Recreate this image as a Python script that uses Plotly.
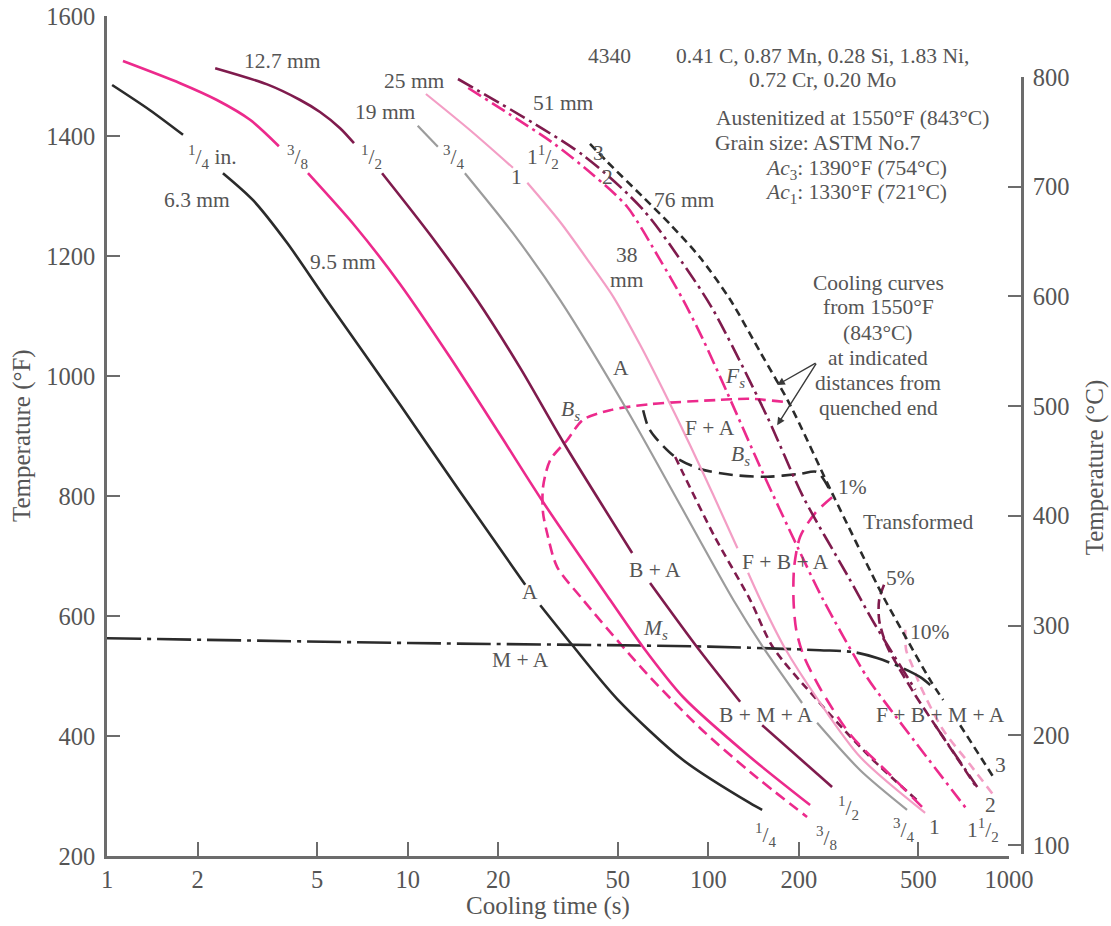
import numpy as np
import plotly.graph_objects as go

FONT = "Liberation Serif"
TEXT = "#555555"
AXIS = "#6c6c6c"
BLACK = "#2b2b2b"
PINK = "#ec2a8c"
MAROON = "#7f1b4d"
GREY = "#9c9c9c"
LIGHT = "#f39ec5"

# ---- cooling curves: time (s) and temperature (°F); None breaks a line under a label ----
t_quarter = [1.04, 1.39, 1.79, None, 2.43, 3.06, 3.97, 5.35, 9.44, 14.9, 24.6, None, 27.6, 35.2, 49.7, 82.4, 137.7, 151]
T_quarter = [1485, 1443, 1402, None, 1338, 1293, 1222, 1128, 952, 808, 652, None, 618, 552, 462, 360, 288, 277]

t_3_8 = [1.13, 1.75, 2.32, 2.99, 3.73, None, 4.66, 6.68, 9.44, 13.8, 20.3, 28.2, 47.1, 60.7, 82.4, 137.7, 218]
T_3_8 = [1525, 1488, 1460, 1427, 1383, None, 1338, 1250, 1153, 1032, 902, 790, 627, 548, 465, 365, 285]

t_half = [2.29, 3.41, 4.39, 5.11, 5.96, 6.63, None, 8.22, 11.9, 17.0, 23.7, 32.9, 55.8, None, 64.0, 91.8, 127.6, None, 151, 258]
T_half = [1513, 1486, 1460, 1440, 1413, 1388, None, 1338, 1235, 1127, 1013, 890, 705, None, 655, 548, 457, None, 418, 315]

t_3_4 = [10.8, 12.6, None, 15.5, 22.4, 32.1, 53.7, 121, 152, 205, None, 230, 320, 458]
T_3_4 = [1417, 1382, None, 1338, 1238, 1127, 943, 627, 548, 455, None, 422, 343, 277]

t_one = [11.5, 16.1, 22.4, None, 25.0, 32.1, 40.4, 48.3, 59.3, 70.7, 86.9, 103.8, 125, None, 135.6, 149, 179, 232, 320, 526]
T_one = [1470, 1410, 1347, None, 1322, 1257, 1188, 1132, 1052, 977, 885, 802, 713, None, 672, 627, 548, 460, 365, 272]

t_1_5 = [15.9, 30.5, 41.4, 53.7, 69.2, 82.4, 96.2, 115.6, 152, 198, 241, 337, 382, 726]
T_1_5 = [1480, 1388, 1335, 1282, 1193, 1127, 1060, 972, 838, 715, 627, 498, 460, 277]

t_two = [14.7, 38.3, 60.7, 85.1, 103.8, 157, 207, 290, 359, 488, None, 568, 784]
T_two = [1495, 1368, 1277, 1177, 1110, 932, 798, 668, 585, 477, None, 418, 315]

t_three = [40.4, 46.1, 60.7, 74.6, 94, 118.3, 148.7, 187, 258, 382, 445, 547, 604, None, 688, 886]
T_three = [1387, 1357, 1298, 1253, 1197, 1127, 1040, 952, 805, 632, 572, 493, 460, None, 418, 332]

# ---- transformation boundaries ----
t_fs_bs = [177, 137.7, 107, 64.0, 47.1, 38.3, 33.9, 29.8, 28.2, 28.2, 29.1, 31.4, 38.3, 52.1, 64.0, 94.0, 137.7, 213]
T_fs_bs = [957, 962, 960, 953, 943, 927, 893, 860, 815, 772, 738, 682, 627, 548, 498, 413, 340, 265]

t_bs_low = [60.7, 63.1, 66.5, 77.6, 94, 121, 157, 202, 230, 258]
T_bs_low = [943, 915, 898, 865, 845, 835, 832, 837, 840, 802]

t_b_end = [77.6, 82.4, 105, 137.7, 164, 230, 345, 507]
T_b_end = [865, 838, 732, 627, 548, 460, 365, 288]

t_pct1 = [258, 227, 202, 193, 192, 196, 207, 235, 297, 403, 518]
T_pct1 = [798, 772, 732, 682, 627, 577, 535, 480, 402, 335, 280]

t_pct5 = [384, 370, 370, 391, 425, 488, 568, 662, 772]
T_pct5 = [652, 627, 593, 552, 518, 468, 418, 368, 318]

t_pct10 = [452, 455, 476, 514, 604, 743, 886]
T_pct10 = [577, 543, 518, 477, 410, 352, 302]

t_ms = [1.0, 10, 100, 235, 303, 364, 435, 507, 547]
T_ms = [563, 555, 549, 543, 540, 530, 515, 498, 485]

# ---- axes ----
x_ticks = [1, 2, 5, 10, 20, 50, 100, 200, 500, 1000]
yF_ticks = [200, 400, 600, 800, 1000, 1200, 1400, 1600]
yC_ticks = [100, 200, 300, 400, 500, 600, 700, 800]

# ---- labels on the chart: text, time (s), temperature (°F) ----
label_text = [
    "12.7 mm", "25 mm", "19 mm", "51 mm", "4340",
    "0.41 C, 0.87 Mn, 0.28 Si, 1.83 Ni,", "0.72 Cr, 0.20 Mo",
    "Austenitized at 1550°F (843°C)",
    "<sup>1</sup>/<sub>4</sub> in.", "6.3 mm", "<sup>3</sup>/<sub>8</sub>", "<sup>1</sup>/<sub>2</sub>",
    "9.5 mm", "<sup>3</sup>/<sub>4</sub>", "1", "1<sup>1</sup>/<sub>2</sub>", "3", "2", "76 mm",
    "38", "mm", "A", "<i>B<sub>s</sub></i>", "<i>F<sub>s</sub></i>", "F + A", "<i>B<sub>s</sub></i>",
    "1%", "Transformed", "B + A", "F + B + A", "5%", "10%", "A", "<i>M<sub>s</sub></i>", "M + A",
    "B + M + A", "F + B + M + A",
    "<sup>1</sup>/<sub>4</sub>", "<sup>3</sup>/<sub>8</sub>", "<sup>1</sup>/<sub>2</sub>",
    "<sup>3</sup>/<sub>4</sub>", "1", "1<sup>1</sup>/<sub>2</sub>", "2", "3",
    "Cooling curves", "from 1550°F", "(843°C)", "at indicated", "distances from", "quenched end",
]
label_t = [
    3.82, 10.5, 8.47, 32.9, 46.8,
    239, 239,
    301,
    2.24, 1.99, 4.29, 7.60,
    6.10, 14.3, 23.1, 28.2, 43.0, 46.1, 83.1,
    53.7, 53.7, 51.3, 34.7, 123, 101.4, 127.6,
    301, 499, 66.5, 180, 435, 547, 25.5, 66.5, 23.7,
    156, 590,
    155, 247, 292,
    448, 564, 821, 866, 935,
    367, 367, 367, 367, 367, 367,
]
label_T = [
    1525, 1492, 1440, 1455, 1533,
    1533, 1493,
    1430,
    1365, 1293, 1365, 1365,
    1190, 1365, 1332, 1365, 1372, 1332, 1293,
    1202, 1160, 1013, 943, 997, 913, 868,
    815, 757, 677, 690, 663, 573, 640, 577, 527,
    435, 435,
    235, 230, 280,
    243, 248, 243, 285, 352,
    1155, 1115, 1072, 1030, 988, 947,
]

# left-aligned notes (text, time of left edge, temperature)
note_text = ["Grain size: ASTM No.7", "<i>Ac</i><sub>3</sub>: 1390°F (754°C)", "<i>Ac</i><sub>1</sub>: 1330°F (721°C)"]
note_t = [103.8, 152, 152]
note_T = [1388, 1345, 1305]

# arrows from the note to the curves: tail (t, T) -> head (t, T)
arrow_tail_t = [230, 230]
arrow_tail_T = [1023, 1023]
arrow_head_t = [169.4, 169.4]
arrow_head_T = [985, 918]

fig = go.Figure()


def curve(t, T, color, dash="solid", width=2.6):
    fig.add_trace(go.Scatter(
        x=t, y=T, mode="lines", connectgaps=False, hoverinfo="skip", showlegend=False,
        line=dict(color=color, width=width, dash=dash, shape="spline", smoothing=0.8),
    ))


# transformation start / percent-transformed lines
curve(t_fs_bs, T_fs_bs, PINK, "11px,6px")
curve(t_bs_low, T_bs_low, BLACK, "14px,7px")
curve(t_b_end, T_b_end, MAROON, "8px,5px")
curve(t_pct1, T_pct1, PINK, "14px,8px")
curve(t_pct5, T_pct5, MAROON, "10px,5px")
curve(t_pct10, T_pct10, LIGHT, "9px,6px")
curve(t_ms, T_ms, BLACK, "34px,6px,4px,6px")

# cooling curves
curve(t_quarter, T_quarter, BLACK)
curve(t_3_8, T_3_8, PINK)
curve(t_half, T_half, MAROON)
curve(t_3_4, T_3_4, GREY, width=2.2)
curve(t_one, T_one, LIGHT, width=2.2)
curve(t_1_5, T_1_5, PINK, "15px,5px,3px,5px")
curve(t_two, T_two, MAROON, "17px,5px,3px,5px")
curve(t_three, T_three, BLACK, "8px,5px")

# carrier for the °C axis
fig.add_trace(go.Scatter(x=[None], y=[None], yaxis="y2", showlegend=False, hoverinfo="skip"))

annotations = []
for txt, t, T in zip(label_text, label_t, label_T):
    annotations.append(dict(x=np.log10(t), y=T, xref="x", yref="y", text=txt, showarrow=False,
                            xanchor="center", yanchor="middle",
                            font=dict(family=FONT, size=21.5, color=TEXT)))
for txt, t, T in zip(note_text, note_t, note_T):
    annotations.append(dict(x=np.log10(t), y=T, xref="x", yref="y", text=txt, showarrow=False,
                            xanchor="left", yanchor="middle",
                            font=dict(family=FONT, size=21.5, color=TEXT)))
for t0, T0, t1, T1 in zip(arrow_tail_t, arrow_tail_T, arrow_head_t, arrow_head_T):
    annotations.append(dict(x=np.log10(t1), y=T1, ax=np.log10(t0), ay=T0,
                            xref="x", yref="y", axref="x", ayref="y", text="",
                            showarrow=True, arrowhead=2, arrowsize=1.1, arrowwidth=1.4,
                            arrowcolor="#3a3a3a", standoff=0, startstandoff=0))

# axis titles
annotations += [
    dict(x=-0.093, y=0.501, xref="paper", yref="paper", text="Temperature (°F)", textangle=-90,
         xanchor="center", yanchor="middle", showarrow=False, font=dict(family=FONT, size=25, color=TEXT)),
    dict(x=1.08, y=0.463, xref="paper", yref="paper", text="Temperature (°C)", textangle=-90,
         xanchor="center", yanchor="middle", showarrow=False, font=dict(family=FONT, size=25, color=TEXT)),
    dict(x=0.482, y=-0.0595, xref="paper", yref="paper", text="Cooling time (s)",
         xanchor="center", yanchor="middle", showarrow=False, font=dict(family=FONT, size=25, color=TEXT)),
]

axis_common = dict(showline=True, linecolor=AXIS, linewidth=2.5, ticks="inside", tickwidth=2,
                   tickcolor=AXIS, showgrid=False, zeroline=False, automargin=False,
                   tickfont=dict(family=FONT, size=24.5, color=TEXT))

fig.update_layout(
    width=1111, height=926,
    margin=dict(l=107, r=89, t=16, b=70, pad=0, autoexpand=False),
    paper_bgcolor="white", plot_bgcolor="rgba(0,0,0,0)",
    showlegend=False,
    font=dict(family=FONT, size=21.5, color=TEXT),
    xaxis=dict(type="log", range=[0, 3], domain=[0, 902 / 915], tickvals=x_ticks,
               ticktext=[str(v) for v in x_ticks], ticklen=14, ticklabelstandoff=0, **axis_common),
    yaxis=dict(range=[200, 1600], tickvals=yF_ticks, ticklen=13, ticklabelstandoff=4, **axis_common),
    yaxis2=dict(anchor="free", position=1.0, side="right", domain=[0.0024, 0.9274],
                range=[91.8, 800], tickvals=yC_ticks, ticklen=13, ticklabelstandoff=4, **axis_common),
    annotations=annotations,
)

fig.write_html("out.html")
